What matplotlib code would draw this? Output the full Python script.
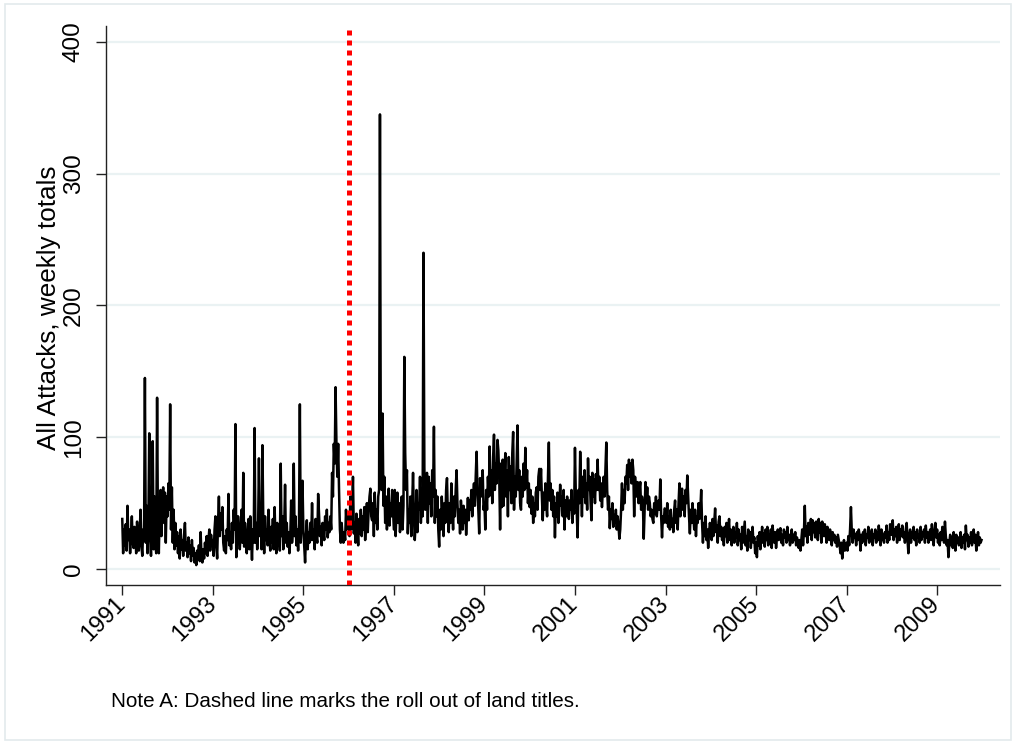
import numpy as np
import matplotlib
matplotlib.use('Agg')
import matplotlib.pyplot as plt
from matplotlib.patches import Rectangle

plt.rcParams['font.family'] = ['Liberation Sans', 'DejaVu Sans']

# weekly attack totals, 52 weeks per year
w1991 = [38, 12, 30, 18, 34, 14, 48, 22, 30, 12, 26, 40, 20,
         16, 32, 24, 12, 36, 20, 14, 28, 45, 18, 10, 30, 22,
         145, 20, 48, 12, 35, 103, 25, 10, 40, 97, 15, 55, 20, 12,
         130, 30, 12, 45, 60, 25, 50, 62, 35, 58, 20, 55]
w1992 = [40, 65, 45, 125, 30, 62, 20, 45, 15,
         35, 18, 28, 12, 25, 8, 30, 15, 22, 10, 26, 35,
         14, 20, 9, 24, 12, 18, 6, 22, 10, 16, 5, 12,
         3, 14, 8, 18, 6, 28, 10, 5, 15, 8, 20,
         12, 25, 10, 22, 30, 14, 26, 18]
w1993 = [22, 10, 30, 40, 18, 8, 35, 55, 25, 42, 30, 47, 20,
         14, 25, 12, 30, 22, 57, 18, 28, 15, 35, 20, 45, 30,
         110, 9, 25, 40, 30, 15, 28, 45, 20, 73,
         17, 35, 22, 12, 27, 38, 15, 40, 25, 7, 30, 20,
         107, 20, 35, 15]
w1994 = [30, 84, 25, 40, 15, 94,
         35, 12, 40, 22, 30, 18, 45, 25, 14, 32, 20, 38, 15,
         47, 22, 12, 35, 18, 28, 14, 80, 25, 40, 15, 30, 64,
         20, 35, 17, 28, 12, 25, 52, 20, 30, 80,
         25, 40, 18, 30, 14, 35, 125, 20, 40, 67]
w1995 = [30, 18, 5, 25, 37, 15, 28, 20, 35, 22, 50,
         22, 30, 15, 38, 25, 20, 57,
         42, 25, 32, 18, 35, 28, 22, 40, 30, 45,
         24, 35, 28, 40, 30,
         73, 55, 95, 80, 138, 96, 70, 95, 60,
         30, 20, 35, 25, 20, 28, 22, 45, 30, 40]
w1996 = [40, 25, 55, 30, 45, 70,
         27, 35, 20, 42, 30, 18, 38, 27, 45, 25, 40, 30, 47, 22, 35, 50, 28, 45, 55,
         61, 40, 37, 50, 25, 58, 35, 45, 30, 55, 60,
         345, 75, 60, 118, 48, 70, 35, 55, 30, 45,
         61, 33, 50, 40, 60, 45]
w1997 = [30, 60, 25, 45, 58, 35, 50, 28, 42, 55, 30, 48,
         161, 88, 60, 75,
         27, 45, 35, 55, 25, 50, 73, 40, 22, 35, 60, 28, 50, 45, 70, 35, 55, 40,
         240, 77, 45, 60, 73, 35, 70, 50, 65, 40, 75, 55,
         108, 35, 60, 40, 55, 30]
w1998 = [17, 45, 30, 55, 40, 25, 50, 35, 60, 69,
         40, 28, 50, 35, 65, 45, 30, 55, 40, 60, 75,
         50, 35, 45, 27, 52, 40, 30, 48, 35, 45, 26,
         40, 54, 37, 52, 45, 60, 40, 55, 65, 48, 70, 89,
         60, 45, 27, 69, 55, 60, 75, 45]
w1999 = [50, 30, 60, 45, 70, 55, 93, 56, 75, 50, 85, 102,
         60, 80, 65, 98, 90, 70, 30,
         80, 47, 83, 48, 70, 88, 55, 75, 40, 85, 60, 78, 50, 88,
         104, 45, 70, 55, 80, 109, 60, 75, 50, 45,
         70, 55, 80, 60, 92, 62, 75, 50, 65]
w2000 = [47, 60, 42, 55, 35, 50, 40, 58, 62, 45, 70,
         76, 60, 76, 55, 37, 58, 45, 65, 50, 40, 70, 96,
         52, 65, 45, 60, 40, 55, 24, 50, 40, 58, 35, 45, 64,
         48, 55, 40, 60, 30,
         52, 40, 55, 45, 38, 52, 45, 60, 35, 50, 42]
w2001 = [92, 55, 45, 24, 60, 50, 89, 65, 40,
         70, 55, 75, 50, 65, 45, 84, 60, 70, 50, 37,
         73, 55, 68, 50, 72, 60, 83, 60, 70, 52, 65, 47,
         60, 70, 55, 75, 96, 60, 45, 55, 31,
         45, 38, 50, 32, 41, 35, 45, 30, 40, 33, 23]
w2002 = [30, 45, 65, 45, 60, 50, 70, 65,
         79, 60, 83, 70, 80, 65, 83, 75, 40, 70, 60, 55,
         66, 50, 60, 66, 45, 55, 50, 23, 45, 66, 50,
         62, 45, 55, 50, 40, 45, 38, 35,
         50, 42, 55, 40, 48, 52, 45, 68, 40, 24, 40, 35, 46]
w2003 = [45, 35, 50, 32, 40, 30, 45, 32, 38, 28, 45, 52,
         35, 45, 30, 50, 65, 40, 55, 61,
         45, 55, 40, 60, 50, 71, 55, 40, 27, 45, 35, 50, 40,
         30, 45, 25, 40, 35, 50, 38, 45, 60, 35, 20,
         35, 25, 40, 22, 30, 16, 28, 35]
w2004 = [30, 22, 38, 25, 35, 46, 28, 33, 20, 36, 40, 25, 32,
         22, 30, 18, 32, 25, 35, 20, 28, 38, 22, 30, 18, 26,
         32, 20, 28, 24, 35, 18, 30, 22, 26, 15, 32, 20, 28,
         36, 18, 25, 14, 30, 22, 28, 16, 26, 32, 20, 24, 12]
w2005 = [20, 9, 25, 18, 28, 15, 24, 32, 20, 27, 17, 30, 22,
         32, 18, 26, 22, 30, 16, 33, 25, 20, 28, 16, 24, 30,
         22, 28, 31, 20, 26, 18, 30, 24, 28, 20, 32, 22, 26,
         18, 24, 30, 20, 26, 22, 28, 18, 24, 20, 16, 22, 14]
w2006 = [22, 30, 18, 28, 48, 25, 32, 20, 35, 26, 30, 38, 22,
         37, 28, 35, 24, 36, 30, 22, 38, 28, 35, 20, 36, 30,
         25, 34, 28, 20, 32, 26, 22, 30, 24, 18, 28, 22, 26,
         20, 24, 17, 26, 22, 18, 12, 20, 8, 16, 22, 14, 18]
w2007 = [20, 14, 25, 18, 30, 47,
         28, 20, 30, 24, 26, 18, 28, 22, 30, 25, 14, 26, 20,
         28, 22, 30, 18, 26, 24, 32, 20, 28, 22, 30, 18, 26,
         24, 30, 20, 28, 22, 33, 24, 18, 30, 22, 26, 20, 28,
         24, 33, 20, 28, 22, 34, 26]
w2008 = [26, 37, 22, 30, 25, 32, 20, 28, 34, 22, 30, 25, 33,
         24, 28, 20, 30, 35, 22, 12, 26, 30, 20, 28, 24, 32,
         22, 28, 18, 30, 24, 26, 20, 32, 22, 28, 25, 30, 20,
         33, 24, 28, 20, 26, 30, 22, 34, 25, 18, 28, 35, 24]
w2009 = [30, 20, 26, 18, 28, 22, 32, 24, 20, 36, 25, 18, 22,
         9, 20, 26, 18, 24, 16, 28, 22, 14, 26, 20, 24, 18,
         22, 28, 16, 24, 20, 26, 15, 33, 22, 26, 17, 24, 20,
         28, 18, 24, 30, 20, 26, 14, 22, 28, 18, 24, 20, 22]

years = list(range(1991, 2010))
weekly = [w1991, w1992, w1993, w1994, w1995, w1996, w1997, w1998, w1999, w2000,
          w2001, w2002, w2003, w2004, w2005, w2006, w2007, w2008, w2009]

titles_year = 1996.0
xticks = list(range(1991, 2011, 2))
yticks = [0, 100, 200, 300, 400]

dates = []
attacks = []
for yr, vals in zip(years, weekly):
    for i, v in enumerate(vals):
        dates.append(yr + i / len(vals))
        attacks.append(v)

fig = plt.figure(figsize=(10.16, 7.42), dpi=100)
fig.patch.set_facecolor('white')
fig.patches.append(Rectangle((5 / 1016, 2 / 742), 1006 / 1016, 736 / 742,
                             transform=fig.transFigure, fill=False,
                             edgecolor='#e3eaec', linewidth=1.2))

ax = fig.add_axes([0.1043, 0.2116, 0.8800, 0.7534])
ax.plot(dates, attacks, color='black', lw=1.8, zorder=3)
ax.axvline(titles_year, color='#ff0000', lw=3.6, linestyle=(0, (1, 1)), zorder=4)

ax.set_xlim(1990.64, 2010.39)
ax.set_ylim(-12.1, 412.1)
ax.set_yticks(yticks)
ax.set_xticks(xticks)
ax.grid(axis='y', color='#eaf2f3', lw=1.6)
ax.set_axisbelow(True)
for s in ['top', 'right']:
    ax.spines[s].set_visible(False)
for s in ['left', 'bottom']:
    ax.spines[s].set_color('#222222')
    ax.spines[s].set_linewidth(1.0)

ax.tick_params(axis='both', direction='out', length=7.2, width=1.0, color='#222222')
ax.tick_params(axis='y', pad=8, labelsize=17.5)
ax.tick_params(axis='x', pad=4, labelsize=17)
for lab in ax.get_yticklabels():
    lab.set_rotation(90)
    lab.set_va('center')
for lab in ax.get_xticklabels():
    lab.set_rotation(45)
    lab.set_ha('right')
    lab.set_va('center')
    lab.set_rotation_mode('anchor')

fig.text(49 / 1016, 0.585, 'All Attacks, weekly totals', rotation=90,
         ha='center', va='center', fontsize=18.8)
fig.text(111 / 1016, 0.055, 'Note A: Dashed line marks the roll out of land titles.',
         ha='left', va='center', fontsize=14.9)

fig.savefig('out.png', dpi=100, facecolor='white')
